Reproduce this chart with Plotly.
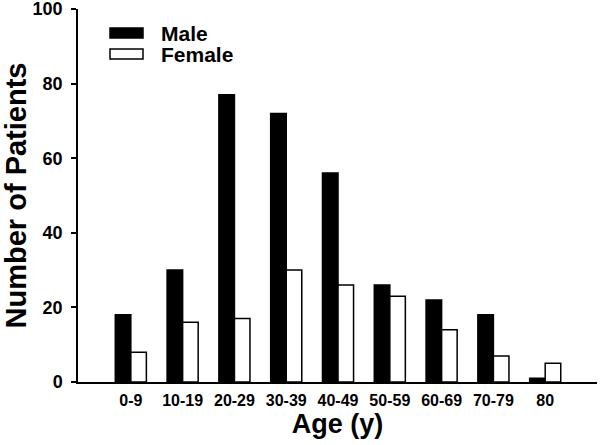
import plotly.graph_objects as go

categories = ["0-9", "10-19", "20-29", "30-39", "40-49", "50-59", "60-69", "70-79", "80"]
male = [18, 30, 77, 72, 56, 26, 22, 18, 1]
female = [8, 16, 17, 30, 26, 23, 14, 7, 5]
y_ticks = [0, 20, 40, 60, 80, 100]

FONT = "Liberation Sans, Arial, Helvetica, sans-serif"

fig = go.Figure()
fig.add_trace(go.Bar(x=categories, y=male, name="Male",
                     marker=dict(color="black", line=dict(color="black", width=1.5))))
fig.add_trace(go.Bar(x=categories, y=female, name="Female",
                     marker=dict(color="white", line=dict(color="black", width=1.5))))

# custom legend keys (wide rectangles like the original)
L = 78; R = 597; T = 9; B = 382
def px(x): return (x - L) / (R - L)
def py(y): return (B - y) / (B - T)

fig.add_shape(type="rect", xref="paper", yref="paper",
              x0=px(110), x1=px(143), y0=py(38), y1=py(28),
              fillcolor="black", line=dict(color="black", width=1.5))
fig.add_shape(type="rect", xref="paper", yref="paper",
              x0=px(110), x1=px(143), y0=py(59), y1=py(49),
              fillcolor="white", line=dict(color="black", width=1.5))
for label, yc in (("Male", 33), ("Female", 54)):
    fig.add_annotation(text="<b>" + label + "</b>", xref="paper", yref="paper",
                       x=px(160), y=py(yc), xanchor="left", yanchor="middle",
                       showarrow=False, height=20, borderpad=0, valign="middle",
                       font=dict(family=FONT, size=21, color="black"))

fig.update_layout(
    width=600, height=445,
    margin=dict(l=L, r=600 - R, t=T, b=445 - B, autoexpand=False),
    paper_bgcolor="white", plot_bgcolor="white",
    barmode="group", bargap=0.4, bargroupgap=0,
    showlegend=False,
    font=dict(family=FONT, color="black"),
)
fig.update_xaxes(
    range=[-1.02, 9.0], showline=True, linecolor="black", linewidth=1.5,
    ticks="", showgrid=False, zeroline=False, automargin=False,
    tickfont=dict(family=FONT, size=16, color="black", weight="bold"),
    ticklabelstandoff=3,
    title=dict(text="<b>Age (y)</b>", font=dict(family=FONT, size=27, color="black"), standoff=2),
)
fig.update_yaxes(
    range=[0, 100], tickvals=y_ticks, showline=True, linecolor="black", linewidth=1.5,
    ticks="outside", ticklen=5, tickwidth=1.5, tickcolor="black",
    showgrid=False, zeroline=False, automargin=False,
    ticklabeloverflow="allow", ticklabelstandoff=5,
    tickfont=dict(family=FONT, size=18, color="black", weight="bold"),
    title=dict(text="<b>Number of Patients</b>", font=dict(family=FONT, size=29, color="black"), standoff=4),
)

fig.write_html("out.html", post_script="document.body.style.margin='0';",
               config={"displayModeBar": False})
